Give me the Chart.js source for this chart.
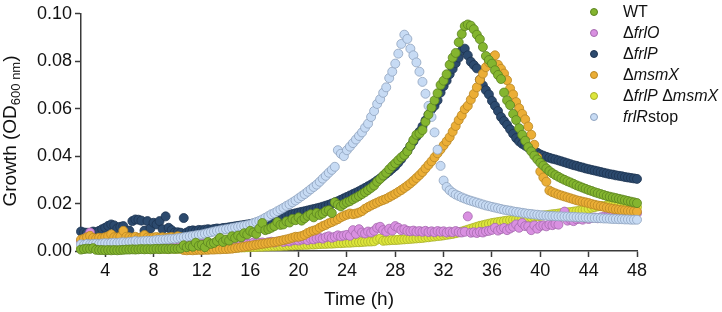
<!DOCTYPE html>
<html>
<head>
<meta charset="utf-8">
<script src="https://cdn.jsdelivr.net/npm/chart.js@4.4.0/dist/chart.umd.min.js"></script>
<style>
  body { margin: 0; background: #fff; }
  #wrap { position: relative; width: 722px; height: 312px; font-family: 'Liberation Sans', Arial, sans-serif; color: #111; }
  #growthChart { position: absolute; left: 0; top: 0; }
  .ytitle { position: absolute; left: -90px; top: 119px; width: 200px; height: 24px; line-height: 24px; text-align: center; font-size: 19px; transform: rotate(-90deg); white-space: nowrap; }
  .ytitle sub { font-size: 13px; vertical-align: -4px; line-height: 0; }
  .xtitle { position: absolute; left: 259px; top: 288px; width: 200px; text-align: center; font-size: 19px; line-height: 22px; }
  #legend { position: absolute; left: 590px; top: 1px; font-size: 16px; line-height: 21px; }
  #legend div { white-space: nowrap; height: 21px; }
  #legend .dot { display: inline-block; box-sizing: border-box; width: 8px; height: 8px; border-radius: 50%; border: 0.8px solid; margin-right: 25px; vertical-align: middle; position: relative; top: -1px; }
</style>
</head>
<body>
<div id="wrap">
  <canvas id="growthChart" width="722" height="312"></canvas>
  <div class="ytitle">Growth (OD<sub>600 nm</sub>)</div>
  <div class="xtitle">Time (h)</div>
  <div id="legend"></div>
</div>
<script>
// sampled every 15 min from 2 h to 48 h
const hours = Array.from({ length: 185 }, (_, i) => 2 + i * 0.25);
const xTicks = [4, 8, 12, 16, 20, 24, 28, 32, 36, 40, 44, 48];
const yTicks = [0, 0.02, 0.04, 0.06, 0.08, 0.10];

const legendLabels = ['WT', '&Delta;<i>frlO</i>', '&Delta;<i>frlP</i>', '&Delta;<i>msmX</i>',
  '&Delta;<i>frlP</i> &Delta;<i>msmX</i>', '<i>frlR</i>stop'];

const wt = [
  0.0006, 0.0008, 0.001, 0.0009, 0.0012, 0.0005, 0.0004, 0.0004, 0.0003, 0.0004, 0.0003, 0.0004, 0.0003, 0.0004, 0.0005, 0.0006,
  0.0006, 0.0007, 0.0006, 0.0007, 0.0008, 0.0007, 0.0008, 0.0007, 0.0008, 0.0009, 0.0008, 0.0009, 0.0009, 0.0008, 0.001, 0.0009,
  0.001, 0.0011, 0.0024, 0.0016, 0.0022, 0.0018, 0.0035, 0.0022, 0.0026, 0.0016, 0.0038, 0.003, 0.0034, 0.0042, 0.0055, 0.0038,
  0.0048, 0.0044, 0.0062, 0.0055, 0.0065, 0.0058, 0.0075, 0.007, 0.0085, 0.0078, 0.0072, 0.0095, 0.0118, 0.0088, 0.0092, 0.0098,
  0.0105, 0.0122, 0.011, 0.0112, 0.0125, 0.012, 0.0135, 0.013, 0.0142, 0.0128, 0.0138, 0.0148, 0.0155, 0.0142, 0.016, 0.0152,
  0.0158, 0.0168, 0.0172, 0.016, 0.0205, 0.0195, 0.0188, 0.0198, 0.0205, 0.021, 0.0218, 0.0225, 0.0232, 0.024, 0.0248, 0.0257,
  0.0266, 0.0276, 0.0292, 0.0304, 0.0318, 0.033, 0.0345, 0.0358, 0.037, 0.0383, 0.0395, 0.0405, 0.042, 0.0443, 0.0468, 0.049,
  0.0495, 0.051, 0.0545, 0.0575, 0.0605, 0.0635, 0.0665, 0.07, 0.0718, 0.0745, 0.0785, 0.0815, 0.0835, 0.088, 0.0915, 0.0948,
  0.0955, 0.095, 0.0935, 0.0912, 0.0893, 0.086, 0.0822, 0.0805, 0.079, 0.0762, 0.0742, 0.0725, 0.0668, 0.0635, 0.0615, 0.0578,
  0.0552, 0.0518, 0.049, 0.0465, 0.0438, 0.042, 0.0402, 0.0386, 0.0372, 0.036, 0.0348, 0.0337, 0.0328, 0.032, 0.0313, 0.0306,
  0.03, 0.0294, 0.0289, 0.0283, 0.0277, 0.0272, 0.0267, 0.0262, 0.0257, 0.0253, 0.0248, 0.0244, 0.024, 0.0236, 0.0232, 0.0229,
  0.0226, 0.0223, 0.022, 0.0217, 0.0214, 0.0211, 0.0208, 0.0205, 0.0202
];
const frlO = [
  0.0042, 0.0045, 0.006, 0.0078, 0.0052, 0.0048, 0.005, 0.0052, 0.0054, 0.0055, 0.0062, 0.0056, 0.0055, 0.0053, 0.0054, 0.0052,
  0.0051, 0.005, 0.0052, 0.0049, 0.0048, 0.0047, 0.0048, 0.0046, 0.0045, 0.0044, 0.0043, 0.0042, 0.0041, 0.004, 0.0039, 0.0038,
  0.0037, 0.0036, 0.0035, 0.0034, 0.0033, 0.0033, 0.0032, 0.0032, 0.0031, 0.0031, 0.003, 0.003, 0.003, 0.003, 0.0029, 0.0029,
  0.0029, 0.0028, 0.0028, 0.0029, 0.0029, 0.003, 0.0033, 0.003, 0.0031, 0.0035, 0.0032, 0.0034, 0.0036, 0.0033, 0.0037, 0.0039,
  0.0036, 0.004, 0.0042, 0.0038, 0.0043, 0.004, 0.0045, 0.0047, 0.0044, 0.0048, 0.005, 0.0046, 0.0051, 0.0049, 0.0053, 0.0055,
  0.0052, 0.0058, 0.0062, 0.0056, 0.006, 0.0066, 0.0062, 0.0065, 0.0068, 0.0064, 0.0088, 0.0072, 0.0092, 0.0078, 0.0074, 0.0082,
  0.0078, 0.0085, 0.0098, 0.0102, 0.0088, 0.0082, 0.0094, 0.0086, 0.0105, 0.0098, 0.0088, 0.0092, 0.0085, 0.0083, 0.0086, 0.0082,
  0.0084, 0.0081, 0.0085, 0.008, 0.0083, 0.0079, 0.0084, 0.0081, 0.0083, 0.0078, 0.0082, 0.0079, 0.0084, 0.008, 0.0078, 0.0081,
  0.0146, 0.0077, 0.0079, 0.0076, 0.0081, 0.0078, 0.0083, 0.0085, 0.0089, 0.0098, 0.0086, 0.0092, 0.0097, 0.0088, 0.0095, 0.0102,
  0.0112, 0.0098, 0.0118, 0.0105, 0.0104, 0.0088, 0.0108, 0.0094, 0.0106, 0.0108, 0.0104, 0.0112, 0.0109, 0.0114, 0.0111, 0.0145,
  0.0166, 0.0128, 0.0132, 0.0126, 0.0134, 0.0136, 0.0132, 0.0138, 0.0135, 0.0139, 0.0141, 0.0138, 0.0142, 0.0144, 0.0143, 0.0146,
  0.0148, 0.0147, 0.015, 0.0152, 0.0151, 0.0154, 0.0156, 0.0157, 0.0159
];
const frlP = [
  0.0082, 0.0078, 0.0077, 0.0076, 0.0082, 0.0079, 0.0085, 0.0092, 0.0098, 0.0106, 0.0112, 0.0108, 0.0095, 0.0102, 0.0105, 0.0078,
  0.0086, 0.0126, 0.0133, 0.0132, 0.0128, 0.0086, 0.0126, 0.0095, 0.0119, 0.0112, 0.0126, 0.0092, 0.0146, 0.0098, 0.0088, 0.0078,
  0.0079, 0.0077, 0.0139, 0.0078, 0.0085, 0.0087, 0.0085, 0.0089, 0.0088, 0.009, 0.0092, 0.009, 0.0093, 0.0095, 0.0094, 0.0097,
  0.0098, 0.01, 0.0102, 0.0104, 0.0106, 0.0108, 0.011, 0.0112, 0.0114, 0.0116, 0.0118, 0.012, 0.0123, 0.0126, 0.013, 0.0134,
  0.0138, 0.0141, 0.0144, 0.0147, 0.015, 0.0153, 0.0156, 0.0159, 0.0162, 0.0165, 0.0168, 0.0171, 0.0174, 0.0177, 0.018, 0.0183,
  0.0187, 0.0191, 0.0195, 0.02, 0.0205, 0.021, 0.0216, 0.0222, 0.0228, 0.0234, 0.024, 0.0246, 0.0252, 0.0259, 0.0266, 0.0273,
  0.028, 0.0288, 0.0297, 0.0306, 0.0316, 0.0326, 0.0336, 0.0347, 0.0358, 0.0372, 0.0388, 0.0405, 0.0422, 0.0442, 0.0462, 0.0482,
  0.0503, 0.0525, 0.055, 0.0575, 0.0598, 0.0612, 0.0635, 0.0668, 0.0695, 0.0718, 0.0745, 0.0768, 0.0792, 0.0815, 0.0845, 0.0853,
  0.0825, 0.0798, 0.0784, 0.077, 0.0722, 0.0698, 0.0678, 0.066, 0.0633, 0.0612, 0.059, 0.0565, 0.0548, 0.0532, 0.0513, 0.0494,
  0.0476, 0.0462, 0.0452, 0.0444, 0.0436, 0.0428, 0.042, 0.0414, 0.0407, 0.0402, 0.0397, 0.0393, 0.0389, 0.0386, 0.0382, 0.0378,
  0.0374, 0.037, 0.0366, 0.0362, 0.0359, 0.0355, 0.0352, 0.0348, 0.0345, 0.0342, 0.0339, 0.0336, 0.0333, 0.033, 0.0327, 0.0324,
  0.0322, 0.0319, 0.0317, 0.0315, 0.0312, 0.031, 0.0308, 0.0306, 0.0304
];
const msmX = [
  0.0048, 0.0052, 0.0058, 0.0064, 0.0055, 0.0052, 0.0056, 0.0054, 0.0058, 0.0062, 0.007, 0.0058, 0.0057, 0.006, 0.0085, 0.006,
  0.0058, 0.0056, 0.006, 0.0055, 0.0058, 0.0067, 0.0057, 0.0055, 0.0057, 0.0059, 0.0056, 0.0058, 0.0055, 0.0057, 0.0059, 0.0056,
  0.0062, 0.0058, 0.0004, 0.0003, 0.0004, 0.0003, 0.0004, 0.0005, 0.0004, 0.0005, 0.0005, 0.0006, 0.0006, 0.0007, 0.0007, 0.0008,
  0.0008, 0.0009, 0.001, 0.0012, 0.0014, 0.0016, 0.0018, 0.002, 0.0022, 0.0024, 0.0026, 0.0028, 0.003, 0.0032, 0.0034, 0.0036,
  0.0038, 0.004, 0.0043, 0.0046, 0.0049, 0.0052, 0.0056, 0.006, 0.006, 0.0063, 0.0068, 0.0076, 0.0082, 0.0086, 0.009, 0.0098,
  0.0105, 0.011, 0.0117, 0.0122, 0.0128, 0.0134, 0.0142, 0.0148, 0.0153, 0.0158, 0.0155, 0.0158, 0.0162, 0.0168, 0.0178, 0.0185,
  0.0192, 0.0198, 0.0204, 0.021, 0.0215, 0.022, 0.0227, 0.0234, 0.0241, 0.0249, 0.0257, 0.0266, 0.0275, 0.0285, 0.0296, 0.0308,
  0.032, 0.0333, 0.0348, 0.0363, 0.0378, 0.0395, 0.0412, 0.0428, 0.0445, 0.0462, 0.048, 0.0503, 0.0527, 0.0552, 0.0572, 0.0598,
  0.0612, 0.0638, 0.0662, 0.069, 0.0722, 0.0748, 0.0775, 0.0795, 0.0815, 0.0825, 0.0785, 0.0768, 0.0748, 0.072, 0.0685, 0.066,
  0.0628, 0.0602, 0.0578, 0.0555, 0.0525, 0.049, 0.0448, 0.0395, 0.0335, 0.031, 0.0292, 0.0255, 0.0248, 0.0243, 0.0238, 0.0234,
  0.023, 0.0226, 0.0222, 0.0218, 0.0214, 0.0211, 0.0208, 0.0205, 0.0202, 0.0198, 0.0195, 0.0192, 0.0189, 0.0186, 0.0183, 0.018,
  0.0178, 0.0176, 0.0174, 0.0172, 0.0171, 0.0169, 0.0168, 0.0167, 0.0166
];
const frlPmsmX = [
  0.0012, 0.0014, 0.0013, 0.0012, 0.0014, 0.0013, 0.0012, 0.0013, 0.0012, 0.0011, 0.0012, 0.0011, 0.0012, 0.0011, 0.001, 0.0011,
  0.001, 0.0011, 0.001, 0.001, 0.0011, 0.001, 0.001, 0.0009, 0.001, 0.001, 0.0009, 0.001, 0.0009, 0.0009, 0.001, 0.0009,
  0.0009, 0.0009, 0.001, 0.0009, 0.0009, 0.001, 0.001, 0.001, 0.001, 0.0011, 0.001, 0.0011, 0.0011, 0.0011, 0.0012, 0.0012,
  0.0012, 0.0013, 0.0013, 0.0014, 0.0014, 0.0015, 0.0015, 0.0016, 0.0016, 0.0017, 0.0017, 0.0018, 0.0018, 0.0019, 0.0019, 0.002,
  0.002, 0.0021, 0.0021, 0.0022, 0.0022, 0.0023, 0.0023, 0.0024, 0.0025, 0.0025, 0.0026, 0.0026, 0.0027, 0.0027, 0.0028, 0.0029,
  0.003, 0.003, 0.0031, 0.0031, 0.0032, 0.0033, 0.0033, 0.0034, 0.0035, 0.0035, 0.0036, 0.0037, 0.0037, 0.0038, 0.0039, 0.004,
  0.004, 0.0041, 0.0048, 0.0052, 0.0043, 0.0044, 0.0045, 0.0046, 0.0046, 0.0047, 0.0048, 0.0049, 0.005, 0.0051, 0.0052, 0.0053,
  0.0054, 0.0055, 0.0057, 0.0058, 0.006, 0.0061, 0.0063, 0.0064, 0.0066, 0.0068, 0.007, 0.0072, 0.0075, 0.0078, 0.0082, 0.0086,
  0.009, 0.0094, 0.0098, 0.0102, 0.0106, 0.0109, 0.0112, 0.0115, 0.0118, 0.012, 0.0122, 0.0124, 0.0126, 0.0128, 0.013, 0.0131,
  0.0133, 0.0135, 0.0136, 0.0138, 0.014, 0.0142, 0.0144, 0.0146, 0.0148, 0.015, 0.0151, 0.0153, 0.0155, 0.0156, 0.0158, 0.016,
  0.0161, 0.0163, 0.0164, 0.0166, 0.0168, 0.017, 0.0172, 0.0175, 0.0178, 0.0182, 0.0185, 0.0188, 0.019, 0.0189, 0.0192, 0.0194,
  0.0193, 0.0195, 0.0192, 0.0194, 0.019, 0.0188, 0.0187, 0.0186, 0.0185
];
const frlRstop = [
  0.0028, 0.0026, 0.003, 0.0028, 0.003, 0.0031, 0.003, 0.0032, 0.0033, 0.0032, 0.0034, 0.0035, 0.0034, 0.0036, 0.0037, 0.0036,
  0.0038, 0.0039, 0.0042, 0.004, 0.0041, 0.0042, 0.0043, 0.0043, 0.0044, 0.0046, 0.0047, 0.0048, 0.0049, 0.005, 0.0051, 0.0052,
  0.0054, 0.0056, 0.0058, 0.006, 0.0062, 0.0064, 0.0066, 0.0068, 0.007, 0.0073, 0.0076, 0.0079, 0.0082, 0.0085, 0.0087, 0.009,
  0.0092, 0.0094, 0.0097, 0.0099, 0.0102, 0.0104, 0.0106, 0.0109, 0.0112, 0.0117, 0.0122, 0.0127, 0.0133, 0.014, 0.0147, 0.0155,
  0.016, 0.0168, 0.0175, 0.0182, 0.019, 0.0197, 0.0205, 0.0213, 0.0222, 0.0231, 0.024, 0.025, 0.026, 0.027, 0.028, 0.0292,
  0.0305, 0.0317, 0.033, 0.0342, 0.0355, 0.0425, 0.041, 0.04, 0.0425, 0.044, 0.0455, 0.047, 0.0485, 0.05, 0.052, 0.0537,
  0.0565, 0.059, 0.062, 0.064, 0.0667, 0.069, 0.0729, 0.0756, 0.079, 0.0832, 0.0873, 0.0912, 0.0894, 0.0853, 0.0825, 0.0795,
  0.0756, 0.0713, 0.0663, 0.0612, 0.0565, 0.05, 0.0427, 0.0359, 0.0297, 0.027, 0.0256, 0.0246, 0.0238, 0.0232, 0.0226, 0.0221,
  0.0216, 0.0212, 0.0208, 0.0204, 0.02, 0.0196, 0.0192, 0.0189, 0.0186, 0.0183, 0.018, 0.0177, 0.0174, 0.0172, 0.017, 0.0167,
  0.0165, 0.0163, 0.0161, 0.0159, 0.0157, 0.0156, 0.0154, 0.0153, 0.0151, 0.015, 0.0149, 0.0148, 0.0148, 0.0147, 0.0146, 0.0146,
  0.0145, 0.0145, 0.0144, 0.0144, 0.0143, 0.0142, 0.0142, 0.0141, 0.014, 0.014, 0.0139, 0.0139, 0.0138, 0.0137, 0.0137, 0.0136,
  0.0135, 0.0135, 0.0134, 0.0134, 0.0133, 0.0133, 0.0132, 0.0132, 0.0132
];

const axisColor = '#3a3a3a';
const tickFont = { family: "'Liberation Sans', Arial, sans-serif", size: 18 };

// order: lower number is drawn on top
const series = [
  { label: 'WT', values: wt, fill: '#84b52f', edge: '#5b8320', order: 0 },
  { label: 'ΔfrlO', values: frlO, fill: '#d990e1', edge: '#a46aad', order: 3 },
  { label: 'ΔfrlP', values: frlP, fill: '#2c4a6e', edge: '#1d3350', order: 5 },
  { label: 'ΔmsmX', values: msmX, fill: '#ebae36', edge: '#b98623', order: 2 },
  { label: 'ΔfrlP ΔmsmX', values: frlPmsmX, fill: '#dde63c', edge: '#a8b02a', order: 4 },
  { label: 'frlRstop', values: frlRstop, fill: '#c7dbf4', edge: '#8ea2be', order: 1 }
];

new Chart(document.getElementById('growthChart'), {
  type: 'scatter',
  data: {
    datasets: series.map(s => ({
      label: s.label,
      data: hours.map((h, i) => ({ x: h, y: s.values[i] })),
      backgroundColor: s.fill,
      borderColor: s.edge,
      borderWidth: 0.8,
      pointRadius: 4.5,
      showLine: false,
      clip: false,
      order: s.order
    }))
  },
  options: {
    responsive: false,
    animation: false,
    events: [],
    layout: { padding: { top: 7, right: 85, bottom: 0, left: 0 } },
    plugins: { legend: { display: false }, tooltip: { enabled: false } },
    scales: {
      x: {
        type: 'linear', min: 2, max: 48,
        afterBuildTicks: s => { s.ticks = xTicks.map(v => ({ value: v })); },
        afterFit: s => { s.height = 61; },
        grid: { drawOnChartArea: false, tickLength: 6, tickColor: axisColor, tickWidth: 1.5 },
        border: { color: axisColor, width: 1.5 },
        ticks: { font: tickFont, color: '#111', padding: 3, maxRotation: 0 }
      },
      y: {
        min: 0, max: 0.1,
        afterBuildTicks: s => { s.ticks = yTicks.map(v => ({ value: v })); },
        afterFit: s => { s.width = 81; },
        grid: { drawOnChartArea: false, tickLength: 6, tickColor: axisColor, tickWidth: 1.5 },
        border: { color: axisColor, width: 1.5 },
        ticks: { font: tickFont, color: '#111', padding: 3, callback: v => v.toFixed(2) }
      }
    }
  }
});

// legend with italic gene names
const legend = document.getElementById('legend');
series.forEach((s, i) => {
  const row = document.createElement('div');
  row.innerHTML = '<span class="dot" style="background:' + s.fill + ';border-color:' + s.edge + '"></span>' + legendLabels[i];
  legend.appendChild(row);
});
</script>
</body>
</html>
